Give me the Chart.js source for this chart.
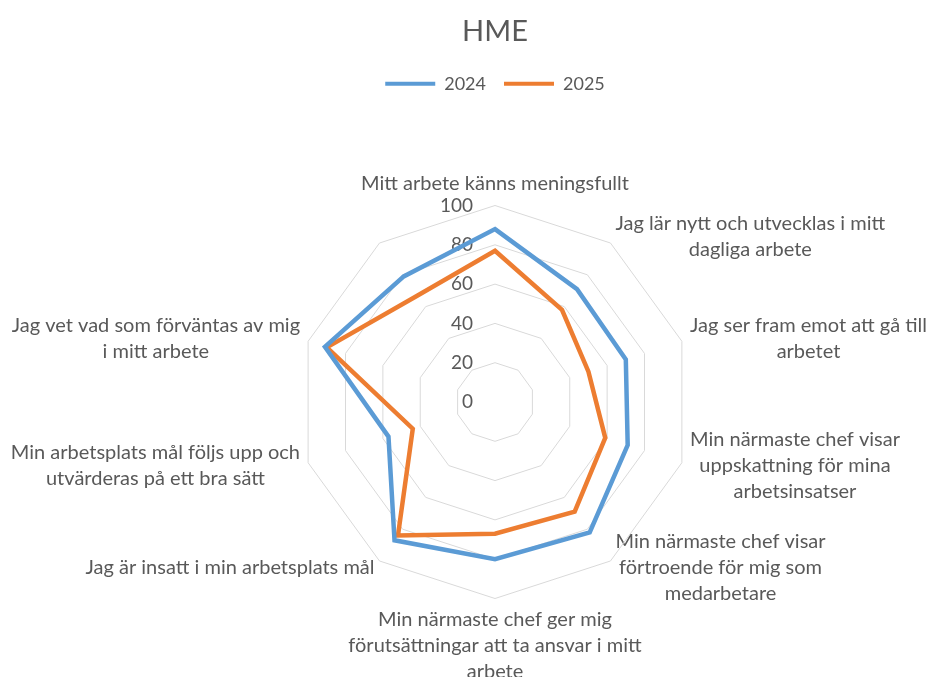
<!DOCTYPE html>
<html>
<head>
<meta charset="utf-8">
<script src="https://cdn.jsdelivr.net/npm/chart.js@4/dist/chart.umd.min.js"></script>
<style>
    html, body { margin: 0; padding: 0; background: #fff; overflow: hidden; }
    /* canvasen ar bredare/hogre an fonstret sa att diagrammet hamnar som i Excel */
    #wrap { position: absolute; left: -64px; top: 0; width: 1118px; height: 711px; }
</style>
</head>
<body>
<div id="wrap"><canvas id="hmeChart"></canvas></div>
<script>
// Kategorier (medurs fran toppen), sista axeln saknar etikett i originalet
const categories = [
    'Mitt arbete känns meningsfullt',
    ['Jag lär nytt och utvecklas i mitt', 'dagliga arbete'],
    ['Jag ser fram emot att gå till', 'arbetet'],
    ['Min närmaste chef visar', 'uppskattning för mina', 'arbetsinsatser'],
    ['Min närmaste chef visar', 'förtroende för mig som', 'medarbetare'],
    ['Min närmaste chef ger mig', 'förutsättningar att ta ansvar i mitt', 'arbete'],
    'Jag är insatt i min arbetsplats mål',
    ['Min arbetsplats mål följs upp och', 'utvärderas på ett bra sätt'],
    ['Jag vet vad som förväntas av mig', 'i mitt arbete'],
    ''
];
const values2024 = [88, 71, 70, 71, 82, 80, 87, 57, 91, 79];
const values2025 = [77, 58, 50, 59, 69, 67, 84, 44, 90, 67];
const tickLabels = ['0', '20', '40', '60', '80', '100'];

const GREY = '#595959';
const FONT = 'Lato, "Open Sans", sans-serif';

// tick-etiketter ska sta till vanster om axeln, som i Excel
function shiftLeft(txt) {
    const fig = '\u2007';
    return fig.repeat(3 - txt.length) + txt + fig.repeat(7);
}

// Excel centrerar etiketterna vertikalt mot punkten och raderna mot varandra
function excelLabels(scale) {
    const n = scale._pointLabels.length;
    (scale._pointLabelItems || []).forEach((item, i) => {
        const deg = Math.round(i * 360 / n);
        const h = item.bottom - item.top;
        if ((deg > 0 && deg < 90) || deg > 270) item.y += h / 2;
        else if (deg > 90 && deg < 270 && deg !== 180) item.y -= h / 2;
        item.x = (item.left + item.right) / 2;
        item.textAlign = 'center';
    });
}

// extra luft under legenden
const legendGap = {
    id: 'legendGap',
    beforeInit(chart) {
        const fit = chart.legend.fit;
        chart.legend.fit = function () {
            fit.call(this);
            this.height += 43;
        };
    }
};

const ctx = document.getElementById('hmeChart').getContext('2d');
const chart = new Chart(ctx, {
    type: 'radar',
    data: {
        labels: categories,
        datasets: [
            {
                label: '2024',
                data: values2024,
                borderColor: '#5B9BD5',
                backgroundColor: '#5B9BD5',
                borderWidth: 4.5,
                pointRadius: 0,
                fill: false
            },
            {
                label: '2025',
                data: values2025,
                borderColor: '#ED7D31',
                backgroundColor: '#ED7D31',
                borderWidth: 4.5,
                pointRadius: 0,
                fill: false
            }
        ]
    },
    plugins: [legendGap],
    options: {
        responsive: true,
        maintainAspectRatio: false,
        animation: false,
        scales: {
            r: {
                min: -0.001,
                max: 100,
                afterFit: excelLabels,
                ticks: {
                    stepSize: 20,
                    color: GREY,
                    font: { family: FONT, size: 19 },
                    showLabelBackdrop: false,
                    callback: (v, i) => shiftLeft(tickLabels[i] || '')
                },
                grid: { color: '#D9D9D9', lineWidth: 1 },
                angleLines: { display: false },
                pointLabels: {
                    color: GREY,
                    font: { family: FONT, size: 20, lineHeight: 1.3 },
                    padding: -3
                }
            }
        },
        plugins: {
            title: {
                display: true,
                text: 'HME',
                color: GREY,
                font: { family: FONT, size: 29, weight: 'normal' },
                padding: { top: 14, bottom: 8 }
            },
            legend: {
                position: 'top',
                labels: {
                    color: GREY,
                    boxWidth: 50,
                    boxHeight: 4,
                    font: { family: FONT, size: 18 },
                    padding: 18,
                    generateLabels: (c) => Chart.defaults.plugins.legend.labels.generateLabels(c)
                        .map(item => Object.assign(item, { lineWidth: 0 }))
                }
            },
            tooltip: { enabled: false }
        }
    }
});
</script>
</body>
</html>
